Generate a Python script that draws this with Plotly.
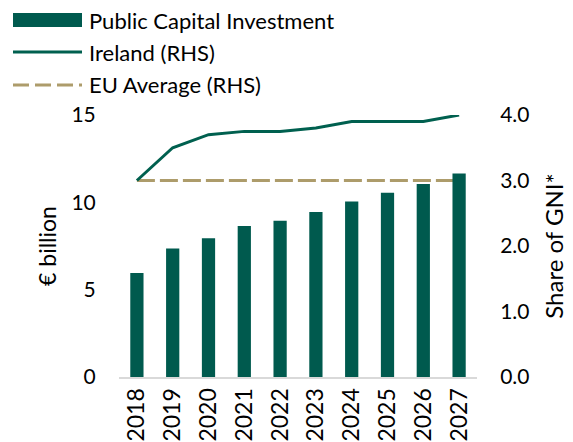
import plotly.graph_objects as go

years = ['2018', '2019', '2020', '2021', '2022', '2023', '2024', '2025', '2026', '2027']
investment = [5.95, 7.35, 7.95, 8.65, 8.95, 9.45, 10.05, 10.55, 11.05, 11.65]  # € billion
ireland = [3.0, 3.5, 3.7, 3.75, 3.75, 3.8, 3.9, 3.9, 3.9, 4.0]  # share of GNI*
eu_avg = [3.0, 3.0, 3.0, 3.0, 3.0, 3.0, 3.0, 3.0, 3.0, 3.0]

font = 'Lato'
green = '#005A4E'
line_green = '#00604F'
tan = '#AD9C6B'

# the page body adds an 8px margin, so the figure is drawn 8px smaller and shifted
OFF = 8
W, H = 573 - OFF, 442 - OFF
ML, MR, MT, MB = 119 - OFF, 96, 115 - OFF, 65
PW, PH = W - ML - MR, H - MT - MB

fig = go.Figure()

# lines on primary (right) axis, drawn underneath the bars
fig.add_trace(go.Scatter(
    x=years, y=eu_avg, mode='lines', name='EU Average (RHS)',
    line=dict(color=tan, width=3, dash='18px,5px'),
    yaxis='y', showlegend=False
))
fig.add_trace(go.Scatter(
    x=years, y=ireland, mode='lines', name='Ireland (RHS)',
    line=dict(color=line_green, width=3),
    yaxis='y', showlegend=False
))
# bars on overlay (left) axis
fig.add_trace(go.Bar(
    x=years, y=investment, name='Public Capital Investment',
    marker=dict(color=green, line=dict(width=0)), width=0.37,
    yaxis='y2', showlegend=False
))


def px_x(p):
    # p is a pixel position in the 573x442 window
    return (p - OFF - ML) / PW


def px_y(p):
    return (H - MB - (p - OFF)) / PH


# hand-built legend
legend_items = [
    ('Public Capital Investment', 'bar'),
    ('Ireland (RHS)', 'line'),
    ('EU Average (RHS)', 'dash'),
]
rows_y = [20, 52, 85]
for (label, kind), yy in zip(legend_items, rows_y):
    if kind == 'bar':
        fig.add_shape(type='rect', xref='paper', yref='paper',
                      x0=px_x(13), x1=px_x(82), y0=px_y(yy + 7), y1=px_y(yy - 7),
                      fillcolor=green, line=dict(width=0))
    else:
        fig.add_shape(type='line', xref='paper', yref='paper',
                      x0=px_x(13), x1=px_x(82), y0=px_y(yy), y1=px_y(yy),
                      line=dict(color=line_green if kind == 'line' else tan, width=3,
                                dash='solid' if kind == 'line' else '16px,6px'))
    fig.add_annotation(text=label, xref='paper', yref='paper',
                       x=px_x(87), y=px_y(yy),
                       xanchor='left', yanchor='middle', showarrow=False,
                       font=dict(family=font, size=22, color='#000000'))

fig.update_layout(
    width=W, height=H,
    margin=dict(l=ML, r=MR, t=MT, b=MB),
    paper_bgcolor='white', plot_bgcolor='white',
    font=dict(family=font, size=21, color='#000000'),
    xaxis=dict(
        type='category', tickangle=-90, showgrid=False, automargin=False,
        showline=True, linecolor='#D9D9D9', linewidth=2,
        ticks='', tickfont=dict(size=23), range=[-0.5, 9.5]
    ),
    yaxis=dict(
        side='right', range=[0, 4], dtick=1, tickformat='.1f', automargin=False,
        showgrid=False, zeroline=False, showline=False,
        ticks='outside', ticklen=18, tickcolor='rgba(0,0,0,0)',
        title=dict(text='Share of GNI*', font=dict(size=24), standoff=17)
    ),
    yaxis2=dict(
        side='left', overlaying='y', range=[0, 15], dtick=5, automargin=False,
        showgrid=False, zeroline=False, showline=False,
        ticks='outside', ticklen=18, tickcolor='rgba(0,0,0,0)',
        title=dict(text='€ billion', font=dict(size=23), standoff=8)
    ),
)

fig.write_html("out.html")
